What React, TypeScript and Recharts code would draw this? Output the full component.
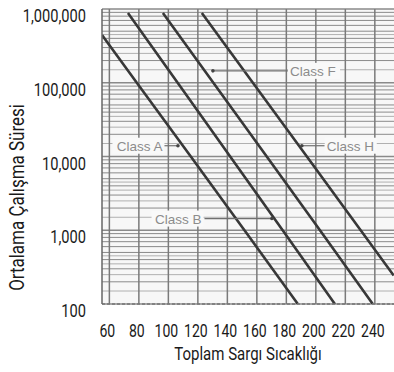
import React from 'react';
import { LineChart, Line, XAxis, YAxis, ReferenceLine, ReferenceDot, ReferenceArea } from 'recharts';

const tempTicks = [60, 80, 100, 120, 140, 160, 180, 200, 220, 240];
const lifeTicks = [100, 1000, 10000, 100000, 1000000];
const lifeTickLabels = ['100', '1,000', '10,000', '100,000', '1,000,000'];

const classA = [
  { t: 55, h: 445000 },
  { t: 78.6, h: 100000 },
  { t: 115.2, h: 10000 },
  { t: 151.6, h: 1000 },
  { t: 187.8, h: 100 },
];
const classB = [
  { t: 72.6, h: 883000 },
  { t: 106.3, h: 100000 },
  { t: 141.9, h: 10000 },
  { t: 177.5, h: 1000 },
  { t: 212.9, h: 100 },
];
const classF = [
  { t: 96.3, h: 883000 },
  { t: 130.5, h: 100000 },
  { t: 166.7, h: 10000 },
  { t: 202.8, h: 1000 },
  { t: 238.6, h: 100 },
];
const classH = [
  { t: 122.7, h: 883000 },
  { t: 157.3, h: 100000 },
  { t: 193.9, h: 10000 },
  { t: 230.4, h: 1000 },
  { t: 252.8, h: 244 },
];

const decades = [100, 1000, 10000, 100000];
const multipliers = [1, 2, 3, 4, 5, 6, 7, 8, 9];
const halfMultipliers = [1.5, 2.5, 3.5, 4.5];
const gridLife: number[] = [];
decades.forEach((d) => multipliers.forEach((m) => gridLife.push(d * m)));
gridLife.push(1000000);
const gridLifeMinor: number[] = [];
decades.forEach((d) => halfMultipliers.forEach((m) => gridLifeMinor.push(d * m)));

const annotations = [
  { name: 'Class A', textX: 96, fromX: 97, tipX: 106.5, y: 14000, anchor: 'end' },
  { name: 'Class B', textX: 122.5, fromX: 124.5, tipX: 170.2, y: 1440, anchor: 'end' },
  { name: 'Class F', textX: 182.5, fromX: 181, tipX: 130.2, y: 145000, anchor: 'start' },
  { name: 'Class H', textX: 207.4, fromX: 206, tipX: 190.5, y: 14000, anchor: 'start' },
];

const FONT = "Roboto, 'Liberation Sans', sans-serif";

const CondText = (props: any) => {
  const { x, y, anchor, size, sx, rotate, children } = props;
  const tr = `translate(${x},${y})${rotate ? ` rotate(${rotate})` : ''} scale(${sx},1)`;
  return (
    <text x={0} y={0} transform={tr} textAnchor={anchor} fontFamily={FONT} fontSize={size} fill="#1a1a1a">
      {children}
    </text>
  );
};

const XTick = (props: any) => {
  const { x, y, payload } = props;
  return (
    <CondText x={x - 2} y={y + 33} anchor="middle" size={19} sx={0.74}>
      {payload.value}
    </CondText>
  );
};

const YTick = (props: any) => {
  const { x, y, payload } = props;
  const idx = lifeTicks.indexOf(payload.value);
  return (
    <CondText x={x - 16} y={y + 13} anchor="end" size={19} sx={0.77}>
      {idx >= 0 ? lifeTickLabels[idx] : ''}
    </CondText>
  );
};

const YTitle = (props: any) => {
  const vb = props.viewBox || { x: 0, y: 9, width: 102, height: 295 };
  const cx = vb.x + 24;
  const cy = vb.y + vb.height / 2 + 41;
  return (
    <CondText x={cx} y={cy} anchor="middle" size={19.5} sx={0.87} rotate={-90}>
      Ortalama Çalışma Süresi
    </CondText>
  );
};

const XTitle = (props: any) => {
  const vb = props.viewBox || { x: 102, y: 304, width: 292, height: 68 };
  return (
    <CondText x={vb.x + vb.width / 2} y={vb.y + 56} anchor="middle" size={19} sx={0.79}>
      Toplam Sargı Sıcaklığı
    </CondText>
  );
};

const series = [classA, classB, classF, classH];

const LABEL_W = 50;

export default function App() {
  return (
    <div style={{ position: 'absolute', left: 0, top: 0, width: 394, height: 372, background: '#fff' }}>
      <LineChart width={394} height={372} margin={{ top: 9, right: 0, bottom: 0, left: 0 }}>
        <XAxis
          type="number"
          dataKey="t"
          domain={[55, 253]}
          ticks={tempTicks}
          allowDataOverflow
          height={68}
          tickSize={0}
          tickMargin={0}
          tickLine={false}
          axisLine={{ stroke: '#777', strokeWidth: 1.5, strokeDasharray: '3 2' }}
          tick={<XTick />}
          label={{ content: (p: any) => <XTitle {...p} /> }}
        />
        <YAxis
          type="number"
          scale="log"
          dataKey="h"
          domain={[100, 1000000]}
          ticks={lifeTicks}
          allowDataOverflow
          width={102}
          tickSize={0}
          tickMargin={0}
          tickLine={false}
          axisLine={{ stroke: '#666', strokeWidth: 1.5 }}
          tick={<YTick />}
          label={{ content: (p: any) => <YTitle {...p} /> }}
        />
        <ReferenceArea x1={55} x2={253} y1={100} y2={1000000} fill="#f7f7f7" fillOpacity={1} stroke="none" />
        {gridLifeMinor.map((v) => (
          <ReferenceLine key={'hm' + v} y={v} stroke="#b0b0b0" strokeWidth={1} />
        ))}
        {gridLife.map((v) => (
          <ReferenceLine
            key={'h' + v}
            y={v}
            stroke="#8a8a8a"
            strokeWidth={lifeTicks.includes(v) ? 1.5 : 1}
          />
        ))}
        {tempTicks.map((v) => (
          <ReferenceLine key={'v' + v} x={v} stroke="#7a7a7a" strokeWidth={1.5} />
        ))}
        {series.map((s, i) => (
          <Line
            key={i}
            data={s}
            dataKey="h"
            type="linear"
            stroke="#383838"
            strokeWidth={2.6}
            dot={false}
            isAnimationActive={false}
          />
        ))}
        {annotations.map((a) => (
          <ReferenceLine
            key={'al' + a.name}
            segment={[
              { x: a.fromX, y: a.y },
              { x: a.tipX, y: a.y },
            ]}
            stroke="#707070"
            strokeWidth={1.2}
          />
        ))}
        {annotations.map((a) => (
          <ReferenceDot
            key={'ad' + a.name}
            x={a.tipX}
            y={a.y}
            r={1.8}
            fill="#444"
            stroke="none"
          />
        ))}
        {annotations.map((a) => (
          <ReferenceDot
            key={'at' + a.name}
            x={a.textX}
            y={a.y}
            r={0}
            shape={(p: any) => (
              <g>
                <rect
                  x={a.anchor === 'end' ? p.cx - LABEL_W : p.cx - 2}
                  y={p.cy - 8}
                  width={LABEL_W + 2}
                  height={16}
                  fill="#f9f9f9"
                />
                <text
                  x={p.cx}
                  y={p.cy + 5}
                  textAnchor={a.anchor as any}
                  fontFamily="'Liberation Sans', Arial, sans-serif"
                  fontSize={13.5}
                  fill="#8c8c8c"
                >
                  {a.name}
                </text>
              </g>
            )}
          />
        ))}
      </LineChart>
    </div>
  );
}
